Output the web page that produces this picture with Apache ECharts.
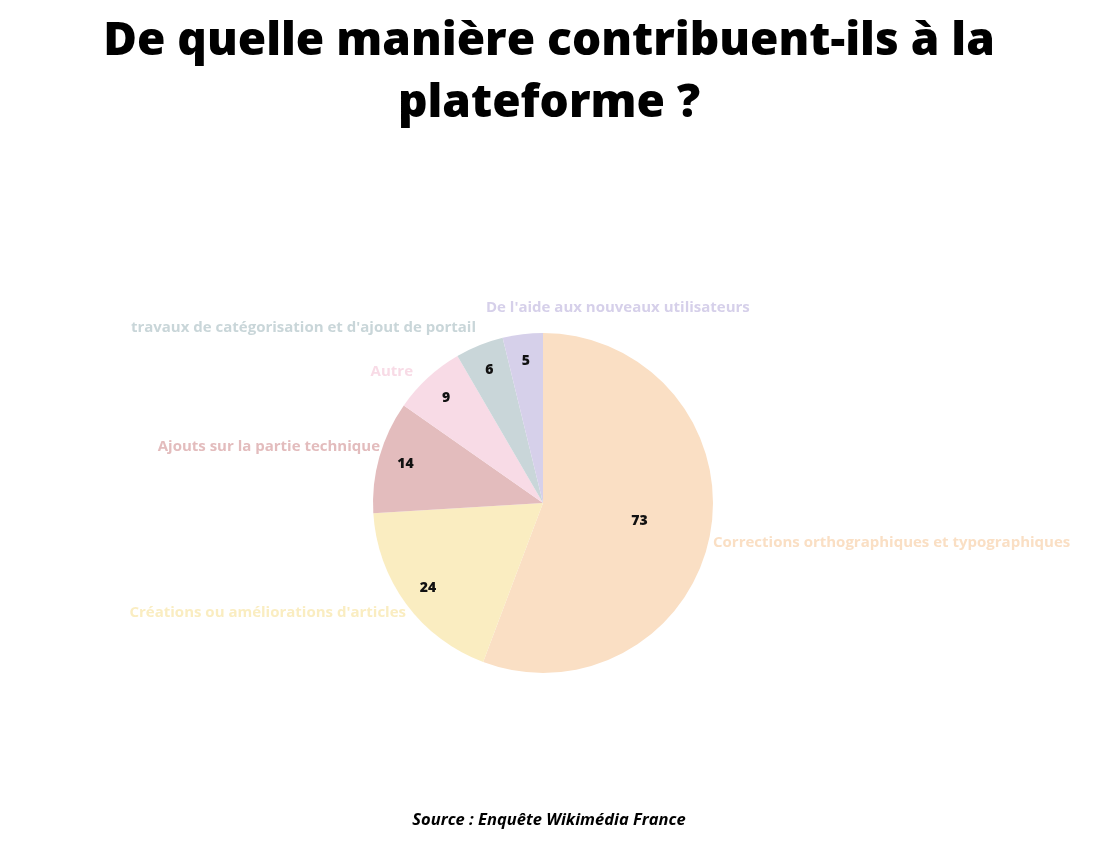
<!DOCTYPE html>
<html>
<head>
<meta charset="utf-8">
<script src="https://cdn.jsdelivr.net/npm/echarts@6/dist/echarts.min.js"></script>
<style>
  html, body { margin: 0; padding: 0; background: #fff; }
  #chart { width: 1098px; height: 842px; }
</style>
</head>
<body>
<div id="chart"></div>
<script>
// slices, clockwise from the top
const categories = [
  'Corrections orthographiques et typographiques',
  "Créations ou améliorations d'articles",
  'Ajouts sur la partie technique',
  'Autre',
  "travaux de catégorisation et d'ajout de portail",
  "De l'aide aux nouveaux utilisateurs"
]
const counts = [73, 24, 14, 9, 6, 5]
const colors = ['#FADFC4', '#FAEDC1', '#E3BCBD', '#F8DBE6', '#C9D6D9', '#D6D0EA']

const chart = echarts.init(document.getElementById('chart'))

const center = [543, 503]
const R = 170

// where the category names sit (anchor x, middle y, alignment)
const namePlaces = [
  [713, 543, 'left'],
  [406, 613, 'right'],
  [380, 447, 'right'],
  [413, 372, 'right'],
  [476, 328, 'right'],
  [486, 308, 'left']
]

const slices = categories.map((name, i) => ({
  name: name,
  value: counts[i],
  itemStyle: { color: colors[i] },
  label: { color: colors[i] }
}))

// value labels: the big slice sits near the middle, the small ones near the rim
const valueLabels = function(bigOnly) {
  return categories.map((name, i) => ({
    name: name,
    value: counts[i],
    label: { show: bigOnly ? i === 0 : i !== 0 }
  }))
}

const valueSeries = function(bigOnly, inner) {
  return {
    type: 'pie',
    center: center,
    radius: [inner, R],
    startAngle: 90,
    silent: true,
    itemStyle: { color: 'rgba(0,0,0,0)' },
    label: {
      position: 'inside',
      formatter: '{c}',
      color: '#111',
      fontFamily: 'Open Sans',
      fontWeight: 800,
      fontSize: 14
    },
    labelLine: { show: false },
    data: valueLabels(bigOnly)
  }
}

const titleStyle = {
  fontFamily: 'Open Sans',
  fontWeight: 800,
  fontSize: 46,
  color: '#000'
}

chart.setOption({
  backgroundColor: '#fff',
  animation: false,
  title: [
    {
      text: 'De quelle manière contribuent-ils à la',
      left: 'center',
      top: 14,
      textStyle: titleStyle
    },
    {
      text: 'plateforme ?',
      left: 'center',
      top: 76,
      textStyle: titleStyle
    },
    {
      text: 'Source : Enquête Wikimédia France',
      left: 'center',
      top: 807,
      textStyle: {
        fontFamily: 'Open Sans',
        fontWeight: 'bold',
        fontStyle: 'italic',
        fontSize: 16.5,
        color: '#000'
      }
    }
  ],
  series: [
    {
      type: 'pie',
      center: center,
      radius: R,
      startAngle: 90,
      label: {
        position: 'outside',
        formatter: '{b}',
        fontFamily: 'Open Sans',
        fontWeight: 'bold',
        fontSize: 15
      },
      labelLine: { show: false, length: 2, length2: 0 },
      labelLayout: function(p) {
        const place = namePlaces[p.dataIndex]
        return { x: place[0], y: place[1], align: place[2], verticalAlign: 'middle' }
      },
      emphasis: { disabled: true },
      data: slices
    },
    valueSeries(true, 20),
    valueSeries(false, 110)
  ]
})
</script>
</body>
</html>
